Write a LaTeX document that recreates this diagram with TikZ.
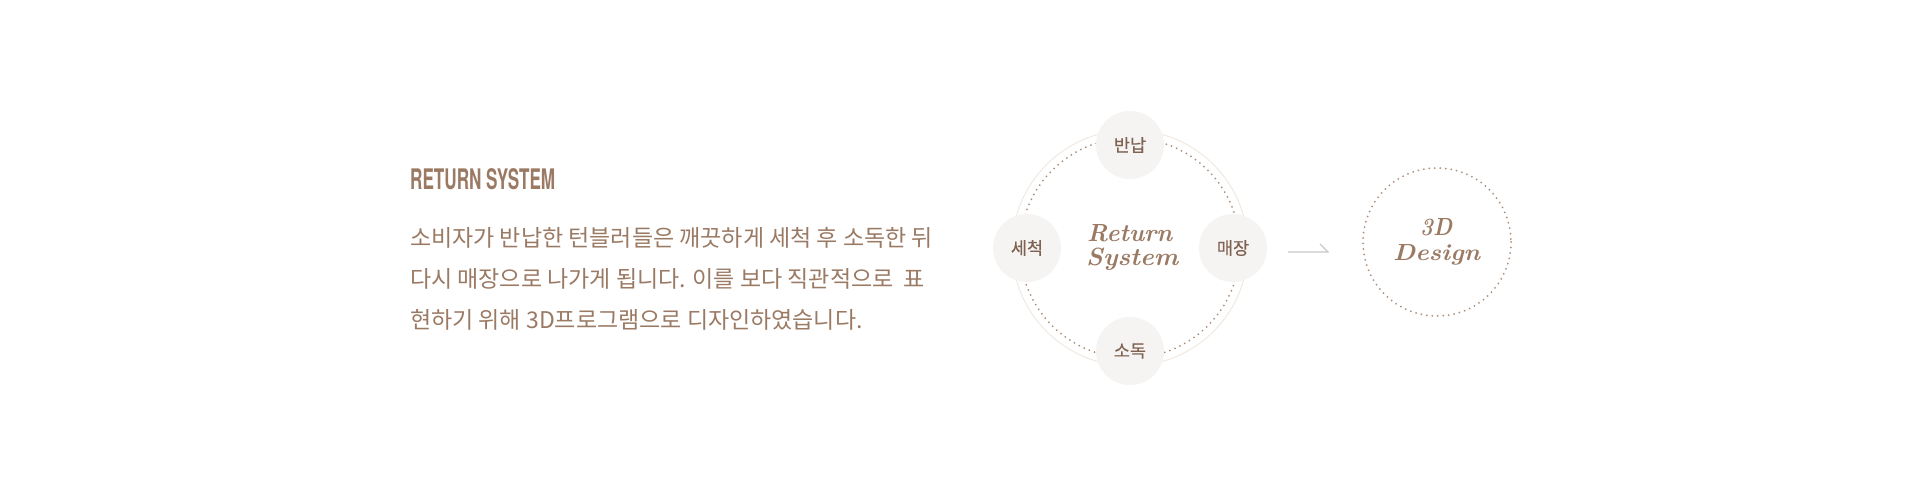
\documentclass[tikz,border=0pt]{standalone}
\usepackage{fontspec}
\usepackage{graphicx}
\newfontfamily\kr{Noto Sans CJK KR}
\newfontfamily\krb{Noto Sans CJK KR}[FakeBold=0.4]
\newfontfamily\hv{TeX Gyre Heros}
\definecolor{brn}{HTML}{9B7A64}
\definecolor{brndark}{HTML}{7F6252}
\definecolor{dotc}{HTML}{AD8F7A}
\definecolor{ringc}{HTML}{F1E9E2}
\definecolor{bubble}{HTML}{F6F4F2}
\definecolor{arrowc}{HTML}{C9C9C9}
\tikzset{
  bodytxt/.style={anchor=base west, inner sep=0pt, text=brn, font=\kr\fontsize{23}{26}\selectfont},
  disp/.style={anchor=base west, inner sep=0pt, text=brn},
  bubblenode/.style={circle, fill=bubble, minimum size=68pt, inner sep=0pt, text=brndark, font=\krb\fontsize{17.5}{19}\selectfont},
  dotring/.style={draw=dotc, line width=2pt, dash pattern=on 0pt off 5.5pt, line cap=round},
}
\begin{document}
\begin{tikzpicture}[x=1pt,y=-1pt]
\useasboundingbox[fill=white] (0,0) rectangle (1920,484);
% left text
\node[disp] (title) at (410,189) {\resizebox{145pt}{21pt}{\hv\bfseries RETURN SYSTEM}};
\node[bodytxt] (l1) at (410,246) {소비자가 반납한 턴블러들은 깨끗하게 세척 후 소독한 뒤};
\node[bodytxt] (l2) at (410,287) {다시 매장으로 나가게 됩니다. 이를 보다 직관적으로 \ 표};
\node[bodytxt] (l3) at (410,328) {현하기 위해 3D프로그램으로 디자인하였습니다.};
% cycle
\coordinate (c) at (1130,248);
\draw[ringc, line width=1pt] (c) circle[radius=118];
\draw[dotring] (c) circle[radius=110];
\node[bubblenode] (b1) at (1130,145) {반납};
\node[bubblenode] (b2) at (1233,248) {매장};
\node[bubblenode] (b3) at (1130,351) {소독};
\node[bubblenode] (b4) at (1027,248) {세척};
\node[disp] (rt1) at (1087,241.5) {\resizebox{85pt}{17pt}{\bfseries\itshape Return}};
\node[disp] (rt2) at (1086,265.5) {\resizebox{92pt}{17.5pt}{\bfseries\itshape System}};
% arrow
\coordinate (a1) at (1288,252);
\coordinate (a2) at (1328,252);
\draw[arrowc, line width=1.2pt] (a1) -- (a2) -- ++(-8,-8);
% 3D design
\coordinate (d) at (1437,242);
\draw[dotring] (d) circle[radius=74];
\node[disp] (d1) at (1420,235) {\resizebox{32pt}{17pt}{\bfseries\itshape 3D}};
\node[disp] (d2) at (1393,260) {\resizebox{87pt}{16pt}{\bfseries\itshape Design}};
\end{tikzpicture}
\end{document}
